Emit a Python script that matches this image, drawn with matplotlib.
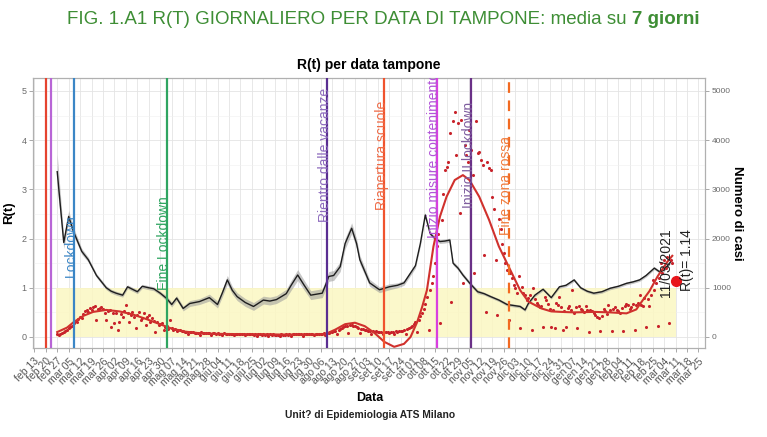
import numpy as np
import pandas as pd
import matplotlib
matplotlib.use('Agg')
import matplotlib.pyplot as plt
import matplotlib.dates as mdates
from matplotlib import font_manager

# ---------------- data ----------------
start = pd.Timestamp('2020-02-13')   # day 0

# R(t) line, days after start, value, half width of grey ribbon
r_days = [14, 18, 21, 24, 29, 33, 38, 44,
          47, 50, 54, 57, 60, 63, 66, 70, 73, 77,
          81, 84, 87, 91, 95, 101, 107, 112, 115, 118,
          121, 124, 129, 134, 140, 144, 148, 154, 157, 161,
          165, 169, 176, 178, 180, 183, 187, 190, 194, 197,
          199, 205, 211, 217, 222, 226, 230, 233, 236, 239,
          242, 245, 248, 251, 254, 256, 259, 262, 266, 271,
          275, 279, 284, 289, 293, 297, 300, 302, 306, 311,
          316, 321, 325, 330, 334, 338, 342, 347, 352, 357,
          362, 366, 370, 374, 379, 382, 385, 389]
r_vals = [3.36, 1.92, 2.45, 2.14, 1.74, 1.57, 1.25, 1.0,
          0.93, 0.89, 0.85, 1.02, 0.97, 0.92, 1.03, 1.0, 0.98, 0.89,
          0.78, 0.66, 0.79, 0.58, 0.68, 0.72, 0.8, 0.66, 0.9, 1.16,
          0.95, 0.82, 0.7, 0.62, 0.75, 0.73, 0.76, 0.88, 1.05, 1.26,
          1.05, 0.85, 0.89, 1.05, 1.23, 1.25, 1.43, 1.9, 2.21, 1.9,
          1.57, 1.1, 0.96, 1.02, 1.05, 1.1, 1.3, 1.45, 1.9, 2.48,
          2.1, 2.0, 1.94, 1.95, 1.97, 1.5, 1.4, 1.26, 1.1, 0.92,
          0.88, 0.82, 0.75, 0.66, 0.64, 0.62, 0.55, 0.68, 0.85, 0.97,
          0.8, 1.02, 1.05, 1.16, 1.0, 0.93, 0.89, 0.92, 0.99, 1.03,
          1.09, 1.12, 1.16, 1.25, 1.4, 1.33, 1.36, 1.53]
r_half = [0.35, 0.12, 0.12, 0.08, 0.06, 0.05, 0.04, 0.04,
          0.04, 0.04, 0.04, 0.04, 0.04, 0.04, 0.04, 0.04, 0.04, 0.04,
          0.05, 0.05, 0.05, 0.05, 0.06, 0.06, 0.07, 0.07, 0.08, 0.09,
          0.08, 0.08, 0.08, 0.08, 0.08, 0.08, 0.08, 0.09, 0.1, 0.11,
          0.1, 0.09, 0.09, 0.1, 0.1, 0.1, 0.1, 0.11, 0.11, 0.1,
          0.09, 0.07, 0.06, 0.06, 0.05, 0.05, 0.05, 0.05, 0.05, 0.05,
          0.04, 0.04, 0.04, 0.04, 0.04, 0.04, 0.04, 0.04, 0.04, 0.04,
          0.03, 0.03, 0.03, 0.03, 0.03, 0.03, 0.03, 0.03, 0.03, 0.03,
          0.03, 0.03, 0.03, 0.03, 0.03, 0.03, 0.03, 0.03, 0.03, 0.03,
          0.03, 0.03, 0.03, 0.03, 0.03, 0.03, 0.03, 0.03]

# daily cases (per swab date), one value per day
cases_spring_from = 14
cases_spring = [60, 40, 70, 90, 110, 130, 150,
                180, 210, 230, 280, 320, 300, 360,
                410, 380, 470, 520, 550, 500, 580,
                540, 600, 620, 350, 560, 590, 610,
                560, 480, 350, 520, 550, 210, 490,
                280, 480, 140, 310, 460, 400, 520,
                650, 480, 310, 450, 510, 410, 180,
                440, 510, 350, 390, 480, 240, 410,
                450, 310, 380, 330, 110, 300, 240,
                260, 290, 140, 210, 230, 170, 350,
                190, 150]
cases_summer_from = 86
cases_summer = [160, 120, 150, 140, 130, 120, 110,
                100, 60, 110, 100, 95, 90, 85,
                90, 50, 95, 85, 80, 80, 75,
                80, 45, 85, 75, 70, 75, 70,
                70, 40, 75, 70, 65, 70, 60,
                65, 35, 70, 60, 65, 60, 55,
                60, 35, 65, 55, 60, 55, 50,
                55, 30, 60, 55, 50, 55, 50,
                55, 30, 55, 50, 55, 50, 45,
                50, 30, 55, 45, 50, 55, 50,
                55, 30, 60, 55, 60, 55, 60,
                55, 30, 60, 65, 60, 55, 60,
                60, 35, 65, 60, 70, 65, 70,
                75, 40, 85, 90, 100, 110, 120,
                130, 60, 150, 170, 190, 210, 220,
                230, 90, 250, 240, 230, 220, 200,
                190, 80, 170, 160, 150, 140, 130,
                130, 70, 120, 110, 120, 110, 100,
                110, 60, 110, 100, 110, 90, 100,
                110, 70, 120, 110, 130, 120, 130]
cases_wave_from = 226
cases_wave = [140, 70, 160, 190, 210, 230, 260,
              300, 110, 350, 420, 480, 560, 680,
              820, 140, 950, 1090, 1230, 1500, 1840,
              2100, 280, 2380, 2900, 3390, 3460, 3560,
              4140, 720, 4380, 4580, 3700, 4340, 2520,
              4410, 1090, 3900, 3700, 3560, 4200, 3800,
              3300, 1300, 4380, 3730, 3770, 3600, 3500,
              1670, 510, 3560, 3430, 3390, 2850, 2600,
              1570, 450, 2400, 2200, 1900, 1700, 1500,
              1360, 350, 1300, 1200, 1050, 1000, 900,
              1230, 180, 1020, 900, 850, 750, 800]
cases_winter_from = 303
cases_winter = [850, 140, 1000, 780, 700, 650, 600,
                620, 200, 820, 750, 680, 560, 210,
                540, 180, 700, 640, 820, 600, 140,
                520, 210, 580, 620, 550, 950, 480,
                600, 180, 620, 560, 540, 500, 620,
                550, 110, 550, 520, 480, 440, 410,
                380, 120, 430, 560, 520, 460, 650,
                540, 130, 560, 600, 550, 520, 490,
                580, 120, 620, 680, 650, 560, 600,
                680, 140, 650, 700, 850, 650, 620,
                800, 210, 780, 620, 850, 1160, 950,
                1100, 220, 1200, 1500, 1300, 1570, 1400,
                1630, 280, 1570, 1500]

# smoothed cases curve
smooth_days = [14, 20, 24, 30, 36, 44, 52, 60, 68, 76,
               84, 92, 100, 110, 120, 130, 140, 150, 160, 170,
               178, 184, 190, 196, 202, 208, 214, 220, 226, 230,
               234, 237, 240, 244, 248, 252, 257, 262, 266, 272,
               278, 284, 291, 297, 302, 310, 316, 322, 330, 342,
               352, 362, 368, 372, 376, 381, 387, 390]
smooth_vals = [100, 190, 300, 430, 510, 550, 520, 460, 370, 270,
               170, 110, 80, 65, 60, 55, 55, 50, 50, 50,
               60, 150, 260, 290, 220, 80, -100, -200, -140, 0,
               300, 600, 950, 1840, 2450, 2850, 3190, 3290, 3190, 2850,
               2380, 1840, 1360, 950, 720, 580, 520, 510, 500, 510,
               500, 480, 560, 750, 930, 1230, 1530, 1650]

band_from, band_to = '2020-02-26', '2021-03-11'

event_dates = ['2020-02-20', '2020-02-23', '2020-03-08', '2020-05-04', '2020-08-10',
               '2020-09-14', '2020-10-16', '2020-11-06', '2020-11-29']
event_labels = ['', '', 'Lockdown', 'Fine Lockdown', 'Rientro dalle vacanze',
                'Riapertura scuole', 'Inizio misure contenimento', 'Inizio II lockdown',
                'Fine zona rossa']
event_label_y = [0, 0, 1.85, 1.9, 3.7, 3.7, 3.7, 3.7, 3.08]
event_colors = ['#E5432F', '#B865D6', '#3B86C6', '#2FA561', '#5A2E91',
                '#F0532D', '#D93FE0', '#6A3087', '#F26A21']
event_text_colors = ['#E5432F', '#B865D6', '#3B86C6', '#2FA561', '#8E6CBE',
                     '#F06A45', '#B255D8', '#7F5E9F', '#F07A3A']

last_date = '2021-03-11'
last_r = 1.14

mesi = ['gen', 'feb', 'mar', 'apr', 'mag', 'giu', 'lug', 'ago', 'set', 'ott', 'nov', 'dic']

# ---------------- fonts ----------------
avail = {f.name for f in font_manager.fontManager.ttflist}
plt.rcParams['font.family'] = ['Liberation Sans', 'DejaVu Sans']
title_font = 'Liberation Sans Narrow' if 'Liberation Sans Narrow' in avail else 'Liberation Sans'
title_size = 16 if title_font == 'Liberation Sans Narrow' else 13.5


def to_num(days):
    return mdates.date2num(start) + np.asarray(days, dtype=float)


def seg(values, first):
    return to_num(np.arange(first, first + len(values))), np.array(values)


# ---------------- figure ----------------
fig = plt.figure(figsize=(7.67, 4.37), dpi=100)
ax = fig.add_axes([33 / 767, 89 / 437, 672 / 767, 270 / 437])
ax2 = ax.twinx()
ax2.patch.set_visible(False)

ax.set_ylim(-0.224, 5.264)
ax2.set_ylim(-224, 5264)
ax.set_xlim(mdates.date2num(start) - 0.8, mdates.date2num(pd.Timestamp('2021-03-29')))

# grid
ax.set_axisbelow(True)
ax.grid(True, which='major', color='#E4E4E4', lw=0.6)
ax.set_yticks(np.arange(0.5, 5.5, 1), minor=True)
ax.grid(True, which='minor', axis='y', color='#F0F0F0', lw=0.4)
ax.tick_params(axis='y', which='minor', length=0)

# yellow band R<1
ax.fill_between([mdates.date2num(pd.Timestamp(band_from)), mdates.date2num(pd.Timestamp(band_to))],
                0, 1, color='#FBF7C2', alpha=0.85, lw=0, zorder=1)

# R(t) line with ribbon
rx = to_num(r_days)
rv = np.array(r_vals)
rh = np.array(r_half)
ax.fill_between(rx, rv - rh, rv + rh, color='#9A9A9A', alpha=0.55, lw=0, zorder=2)
ax.plot(rx, rv, color='#1E1E1E', lw=1.0, zorder=3)

# cases
for vals, first in [(cases_spring, cases_spring_from), (cases_summer, cases_summer_from),
                    (cases_wave, cases_wave_from), (cases_winter, cases_winter_from)]:
    cx, cy = seg(vals, first)
    ax2.scatter(cx, cy, s=5, color='#C8232B', lw=0, zorder=2)
ax2.plot(to_num(smooth_days), smooth_vals, color='#D0312D', lw=1.5, zorder=3)

# events
for d, lab, ly, c, tc in zip(event_dates, event_labels, event_label_y, event_colors, event_text_colors):
    xd = mdates.date2num(pd.Timestamp(d))
    ls = (0, (4.8, 3.4)) if lab == 'Fine zona rossa' else '-'
    ax2.axvline(xd, color=c, lw=1.6, ls=ls, zorder=4)
    if lab:
        ax2.text(xd - 1.5, ly, lab, transform=ax.transData, rotation=90, ha='center', va='center',
                 color=tc, fontsize=10, clip_on=True, zorder=5)

# last value
lx = mdates.date2num(pd.Timestamp(last_date))
ax2.plot([lx], [last_r], 'o', color='#E8161C', ms=7, transform=ax.transData, zorder=6)
ax2.text(lx - 6, 1.5, '11/03/2021', transform=ax.transData, rotation=90, ha='center', va='center',
         color='#222222', fontsize=10, zorder=6)
ax2.text(lx + 7, 1.56, 'R(t)= %.2f' % last_r, transform=ax.transData, rotation=90,
         ha='center', va='center', color='#222222', fontsize=10, zorder=6)

# axes styling
tick_dates = pd.date_range(start, '2021-03-25', freq='7D')
ax.set_xticks(mdates.date2num(tick_dates))
ax.set_xticklabels(['%s %02d' % (mesi[t.month - 1], t.day) for t in tick_dates],
                   rotation=45, ha='right', va='top', rotation_mode='anchor')
ax.tick_params(axis='x', labelsize=7.5, labelcolor='#555555', color='#9A9A9A', length=3, width=0.6, pad=3)
ax.set_yticks(range(0, 6))
ax.tick_params(axis='y', labelsize=6.5, labelcolor='#6A6A6A', color='#9A9A9A', length=3, width=0.6, pad=1.5)
ax2.set_yticks(range(0, 6000, 1000))
ax2.tick_params(axis='y', labelsize=6, labelcolor='#6A6A6A', color='#9A9A9A', length=3, width=0.6, pad=2)
for a in (ax, ax2):
    for s in a.spines.values():
        s.set_color('#B0B0B0')
        s.set_linewidth(0.8)

ax.set_ylabel('R(t)', fontsize=9.5, fontweight='bold')
ax.yaxis.set_label_coords(-0.027, 0.5)
ax2.set_ylabel('Numero di casi', fontsize=9.5, fontweight='bold', rotation=-90, va='center')
ax2.yaxis.set_label_coords(1.048, 0.5)

fig.text(369 / 767, 1 - 65 / 437, 'R(t) per data tampone', ha='center', va='center',
         fontsize=10, fontweight='bold')
fig.text(370 / 767, 1 - 398 / 437, 'Data', ha='center', va='center', fontsize=9, fontweight='bold')
fig.text(370 / 767, 1 - 415 / 437, 'Unit? di Epidemiologia ATS Milano', ha='center', va='center',
         fontsize=7.4, fontweight='bold', color='#222222')

# figure heading, normal + bold part
green = '#3E8E35'
t1 = fig.text(0, 1 - 19 / 437, 'FIG. 1.A1 R(T) GIORNALIERO PER DATA DI TAMPONE: media su ',
              ha='left', va='center', fontsize=title_size, family=title_font, color=green)
t2 = fig.text(0, 1 - 19 / 437, '7 giorni', ha='left', va='center', fontsize=title_size,
              family=title_font, fontweight='bold', color=green)
renderer = fig.canvas.get_renderer()
w1 = t1.get_window_extent(renderer).width
w2 = t2.get_window_extent(renderer).width
left = 383 - (w1 + w2) / 2
t1.set_x(left / 767)
t2.set_x((left + w1) / 767)

fig.savefig('out.png', dpi=100)
